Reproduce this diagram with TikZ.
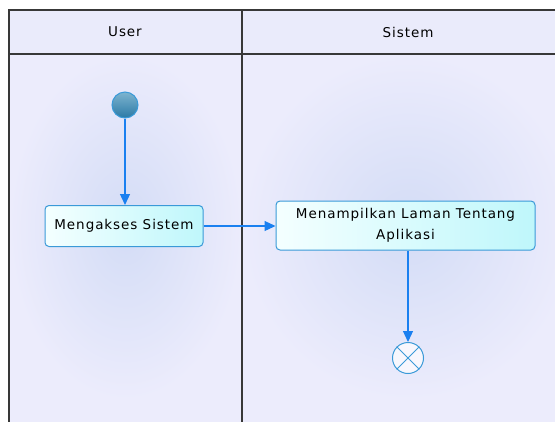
\documentclass[tikz,border=0pt]{standalone}
\usepackage{fontspec}
\setmainfont{DejaVu Sans}[LetterSpace=7]
\usetikzlibrary{arrows.meta,shapes.misc}
\definecolor{lanebg}{HTML}{ECECFC}
\definecolor{glow}{HTML}{D3DCF6}
\definecolor{hdrbg}{HTML}{EAEBFB}
\definecolor{lanebd}{HTML}{383838}
\definecolor{boxbd}{HTML}{3A9AD8}
\definecolor{boxlt}{HTML}{F4FFFF}
\definecolor{boxdk}{HTML}{BFF7FB}
\definecolor{flow}{HTML}{1A80F0}
\definecolor{startlt}{HTML}{7DB4CF}
\definecolor{startdk}{HTML}{2C7AA6}
\tikzset{
  lane/.style={draw=lanebd, line width=1.4pt},
  action/.style={rectangle, rounded corners=4pt, draw=boxbd, line width=1pt,
    left color=boxlt, right color=boxdk, align=center, font=\fontsize{13.5}{21}\selectfont,
    inner sep=0pt},
  flowline/.style={draw=flow, line width=1.2pt, -{Triangle[length=11pt,width=10pt]}},
  hdr/.style={font=\fontsize{13.5}{16}\selectfont},
}
\begin{document}
\begin{tikzpicture}[x=1pt,y=-1pt]
\useasboundingbox (0,0) rectangle (555,421);
\fill[white] (0,0) rectangle (555,421);
\begin{scope}
\clip (0,0) rectangle (555,421);
% lane bodies
\shade[inner color=glow, outer color=lanebg] (9,54) rectangle (242,400);
\fill[lanebg] (9,400) rectangle (242,440);
\shade[inner color=glow, outer color=lanebg] (242,54) rectangle (575,400);
\fill[lanebg] (242,400) rectangle (575,440);
% headers
\fill[hdrbg] (9,10) rectangle (575,54);
\draw[lane] (9,440) -- (9,10) -- (575,10);
\draw[lane] (9,54) -- (575,54);
\draw[lane] (242,10) -- (242,440);
\end{scope}
\node[hdr] (hu) at (125,32) {User};
\node[hdr] (hs) at (408,32) {Sistem};
% start
\node[circle, minimum size=26pt, inner sep=0pt, draw=boxbd, line width=1pt,
  top color=startlt, bottom color=startdk] (start) at (125,105) {};
% actions
\node[action, minimum width=158pt, minimum height=41pt] (a1) at (124,226) {Mengakses Sistem};
\node[action, minimum width=259pt, minimum height=49pt] (a2) at (405.5,225.5) {Menampilkan Laman Tentang\\Aplikasi};
% end
\node[circle, minimum size=31pt, inner sep=0pt, draw=boxbd, line width=1pt, fill=white!60!hdrbg] (end) at (408,358) {};
\draw[boxbd, line width=1pt] (end.north east) -- (end.south west) (end.north west) -- (end.south east);
% flows
\draw[flowline] (start) -- (a1.north -| start);
\draw[flowline] (a1.east) -- (a2.west |- a1.east);
\draw[flowline] (a2.south -| end) -- (end.north);
\end{tikzpicture}
\end{document}
